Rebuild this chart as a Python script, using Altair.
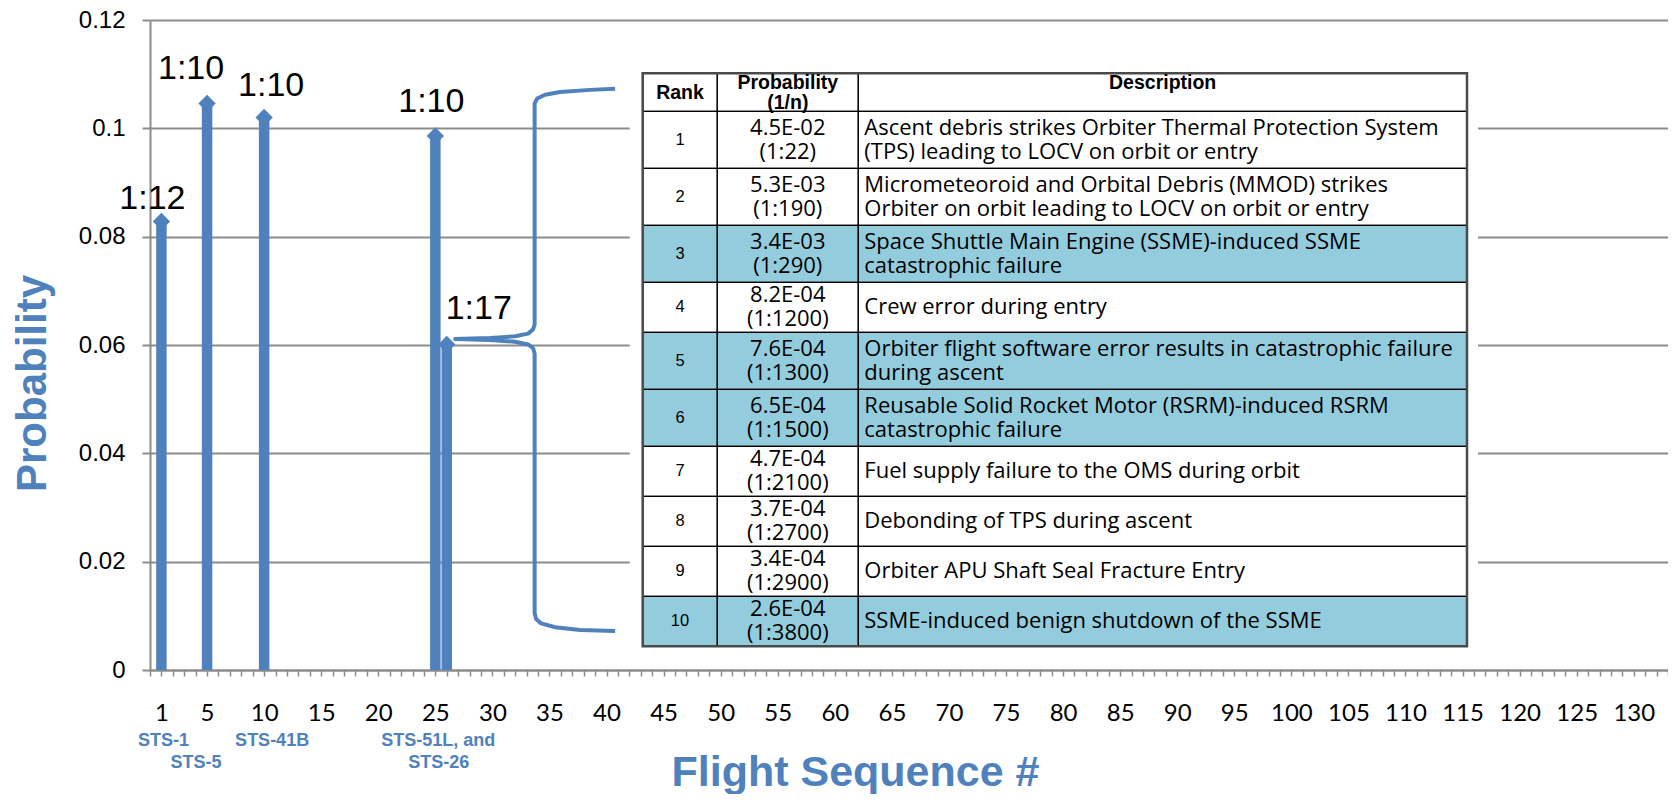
import altair as alt
import pandas as pd

# ---------------- data ----------------
flights = [1, 5, 10, 25, 26]
probabilities = [0.0828, 0.1046, 0.1020, 0.0986, 0.0601]
ratio_labels = ["1:12", "1:10", "1:10", "1:10", "1:17"]

sts_labels = ["STS-1", "STS-5", "STS-41B", "STS-51L, and", "STS-26"]
sts_flights = [1, 5, 10, 25, 26]
sts_rows = [1, 2, 1, 1, 2]

y_ticks = [0, 0.02, 0.04, 0.06, 0.08, 0.1, 0.12]

# brace outline (flight units, probability)
brace_x = [40.75, 38.56, 35.93, 34.62, 33.92, 33.70, 33.70, 33.57, 33.13, 31.99, 29.80, 26.73,
           29.80, 31.99, 33.13, 33.57, 33.70, 33.70, 33.83, 34.27, 35.50, 37.69, 40.75]
brace_y = [0.1073, 0.1071, 0.1067, 0.1062, 0.1055, 0.1046, 0.0638, 0.0629, 0.0621, 0.0616, 0.0613, 0.0611,
           0.0609, 0.0606, 0.0601, 0.0594, 0.0584, 0.0105, 0.0094, 0.0086, 0.0079, 0.0074, 0.0072]

table_rank = [1, 2, 3, 4, 5, 6, 7, 8, 9, 10]
table_prob = ["4.5E-02", "5.3E-03", "3.4E-03", "8.2E-04", "7.6E-04",
              "6.5E-04", "4.7E-04", "3.7E-04", "3.4E-04", "2.6E-04"]
table_ratio = ["(1:22)", "(1:190)", "(1:290)", "(1:1200)", "(1:1300)",
               "(1:1500)", "(1:2100)", "(1:2700)", "(1:2900)", "(1:3800)"]
table_desc = [
    "Ascent debris strikes Orbiter Thermal Protection System\n(TPS) leading to LOCV on orbit or entry",
    "Micrometeoroid and Orbital Debris (MMOD) strikes\nOrbiter on orbit leading to LOCV on orbit or entry",
    "Space Shuttle Main Engine (SSME)-induced SSME\ncatastrophic failure",
    "Crew error during entry",
    "Orbiter flight software error results in catastrophic failure\nduring ascent",
    "Reusable Solid Rocket Motor (RSRM)-induced RSRM\ncatastrophic failure",
    "Fuel supply failure to the OMS during orbit",
    "Debonding of TPS during ascent",
    "Orbiter APU Shaft Seal Fracture Entry",
    "SSME-induced benign shutdown of the SSME",
]
table_highlight = [3, 5, 6, 10]
table_headers = ["Rank", "Probability\n(1/n)", "Description"]

# ---------------- style / layout ----------------
BLUE = "#4F81BD"
GRAY = "#8C8C8C"
HILITE = "#93CDDD"
W, H = 1518, 650
TOP = 12
LH = 24  # table body line height

X = alt.Scale(domain=[0, 133], nice=False, zero=False)
Y = alt.Scale(domain=[0, 0.12], nice=False, zero=False)

df = pd.DataFrame({"flight": flights, "p": probabilities, "lab": ratio_labels})

x_axis = alt.Axis(
    values=list(range(0, 134)),
    labelExpr="(datum.value == 1 || datum.value % 5 == 0) && datum.value > 0 && datum.value <= 130 ? datum.label : ''",
    grid=False, tickSize=6, tickColor=GRAY, tickWidth=1.5,
    domainColor=GRAY, domainWidth=2,
    labelFont="Lato", labelFontSize=24, labelColor="black",
    labelBaseline="middle", labelPadding=37, labelOverlap=False, labelFlush=False, labelBound=False,
    title="Flight Sequence #", titleFont="Liberation Sans", titleFontSize=43,
    titleFontWeight="bold", titleColor=BLUE, titleX=705, titleY=115,
    titleAlign="center", titleBaseline="alphabetic",
)
y_axis = alt.Axis(
    values=y_ticks, format=".2~f", grid=True, gridColor=GRAY, gridWidth=2,
    domainColor=GRAY, domainWidth=2, tickColor=GRAY, tickWidth=2, tickSize=8,
    labelFont="Liberation Sans", labelFontSize=24, labelColor="black", labelPadding=17,
    labelOverlap=False,
    title="Probability", titleFont="Liberation Sans", titleFontSize=42,
    titleFontWeight="bold", titleColor=BLUE, titleAngle=270, titleX=-105, titleY=383 - 8 - TOP,
    titleAlign="center", titleBaseline="alphabetic",
)


def fx(field):
    return alt.X(field, scale=X, axis=x_axis)


def fy(field):
    return alt.Y(field, scale=Y, axis=y_axis)


base = alt.Chart(df)
bars = base.mark_rule(strokeWidth=10.5, color=BLUE).encode(
    x=fx("flight:Q"), y=fy("p:Q"), y2=alt.datum(0),
)
markers = base.mark_point(shape="diamond", filled=True, size=300, color=BLUE, opacity=1).encode(
    x=fx("flight:Q"), y=fy("p:Q")
)

label_offsets = {1: (-9, -13), 5: (-16, -24), 10: (7, -22), 25: (-4, -24), 26: (32, -25)}
labels = [
    base.transform_filter(alt.datum.flight == f).mark_text(
        dx=dx, dy=dy, baseline="alphabetic", align="center",
        font="Liberation Sans", fontSize=34, color="black"
    ).encode(x=fx("flight:Q"), y=fy("p:Q"), text="lab:N")
    for f, (dx, dy) in label_offsets.items()
]

brace_df = pd.DataFrame({"bx": brace_x, "by": brace_y, "i": list(range(len(brace_x)))})
brace = alt.Chart(brace_df).mark_line(color=BLUE, strokeWidth=4, strokeJoin="round").encode(
    x=fx("bx:Q"), y=fy("by:Q"), order="i:Q"
)

sts_df = pd.DataFrame({"s": sts_labels, "f": sts_flights, "row": sts_rows, "zero": 0.0})
sts_dx = {"STS-1": 2, "STS-5": -11, "STS-41B": 8, "STS-51L, and": 3, "STS-26": -8}
sts = [
    alt.Chart(sts_df).transform_filter(alt.datum.s == s).mark_text(
        dx=sts_dx[s], dy=71 if r == 1 else 93, baseline="middle", align="center",
        font="Liberation Sans", fontSize=18, fontWeight="bold", color=BLUE
    ).encode(x=fx("f:Q"), y=fy("zero:Q"), text="s:N")
    for s, r in zip(sts_labels, sts_rows)
]

main = alt.layer(bars, markers, brace, *labels, *sts)

# ---------------- table overlay ----------------
col_w = [74.6, 141.0, 608.7]
col_edges = [0.0]
for w_ in col_w:
    col_edges.append(col_edges[-1] + w_)
row_h = [38] + [57 if "\n" in d else 50 for d in table_desc]
row_edges = [0.0]
for h_ in row_h:
    row_edges.append(row_edges[-1] + h_)
TW, TH = col_edges[-1], row_edges[-1]
T_LEFT, T_TOP = 492.7, 73.3 - 8 - TOP

TX = alt.Scale(domain=[0, TW], range=[T_LEFT, T_LEFT + TW], nice=False, zero=False)
TY = alt.Scale(domain=[0, TH], range=[T_TOP, T_TOP + TH], nice=False, zero=False)


def tx(field):
    return alt.X(field, scale=TX, axis=None)


def ty(field):
    return alt.Y(field, scale=TY, axis=None)


cells = []
for r in range(len(row_h)):
    for c in range(3):
        cells.append({
            "x0": col_edges[c], "x1": col_edges[c + 1],
            "y0": row_edges[r], "y1": row_edges[r + 1],
            "fill": HILITE if (r in table_highlight) else "white",
        })
cells_df = pd.DataFrame(cells)

white_box = alt.Chart(pd.DataFrame({"x0": [-13], "x1": [TW + 11], "y0": [-11], "y1": [TH + 10]})).mark_rect(
    fill="white").encode(x=tx("x0:Q"), x2="x1:Q", y=ty("y0:Q"), y2="y1:Q")

cell_rects = alt.Chart(cells_df).mark_rect(stroke="black", strokeWidth=1.3).encode(
    x=tx("x0:Q"), x2="x1:Q", y=ty("y0:Q"), y2="y1:Q",
    fill=alt.Fill("fill:N", scale=None))

outer = alt.Chart(pd.DataFrame({"x0": [0], "x1": [TW], "y0": [0], "y1": [TH]})).mark_rect(
    fillOpacity=0, stroke="#4A4A4A", strokeWidth=2.5).encode(
    x=tx("x0:Q"), x2="x1:Q", y=ty("y0:Q"), y2="y1:Q")

centers = [(row_edges[i] + row_edges[i + 1]) / 2 for i in range(len(row_h))]
body_df = pd.DataFrame({
    "rank": [str(r) for r in table_rank],
    "prob": [f"{p}\n{q}" for p, q in zip(table_prob, table_ratio)],
    "desc": table_desc,
    "yc": centers[1:],
    "yp": [c - LH / 2 for c in centers[1:]],
    "yd": [c - LH / 2 * d.count("\n") for c, d in zip(centers[1:], table_desc)],
    "xr": (col_edges[0] + col_edges[1]) / 2,
    "xp": (col_edges[1] + col_edges[2]) / 2,
    "xd": col_edges[2] + 6,
})
rank_txt = alt.Chart(body_df).mark_text(font="Liberation Sans", fontSize=16.5, color="black",
                                        baseline="middle", align="center").encode(
    x=tx("xr:Q"), y=ty("yc:Q"), text="rank:N")
prob_txt = alt.Chart(body_df).mark_text(font="Open Sans", fontSize=22, color="black", lineBreak="\n",
                                        lineHeight=LH, baseline="middle", align="center").encode(
    x=tx("xp:Q"), y=ty("yp:Q"), text="prob:N")
desc_txt = alt.Chart(body_df).mark_text(font="Open Sans", fontSize=22, color="black", lineBreak="\n",
                                        lineHeight=LH, baseline="middle", align="left").encode(
    x=tx("xd:Q"), y=ty("yd:Q"), text="desc:N")

head_df = pd.DataFrame({
    "h": table_headers,
    "hx": [(col_edges[i] + col_edges[i + 1]) / 2 for i in range(3)],
    "hy": [20, 10, 10],
})
head_txt = alt.Chart(head_df).mark_text(font="Liberation Sans", fontSize=19.5, fontWeight="bold",
                                        color="black", lineBreak="\n", lineHeight=20,
                                        baseline="middle", align="center").encode(
    x=tx("hx:Q"), y=ty("hy:Q"), text="h:N")

table = alt.layer(white_box, cell_rects, outer, rank_txt, prob_txt, desc_txt, head_txt)

chart = alt.layer(main, table).resolve_scale(x="independent", y="independent").properties(
    width=W, height=H,
    autosize=alt.AutoSizeParams(type="none"),
    padding={"left": 142, "top": TOP, "right": 0, "bottom": 124},
    background="white",
).configure_view(strokeWidth=0)

chart.save("out.html", embed_options={"renderer": "svg", "actions": False})
